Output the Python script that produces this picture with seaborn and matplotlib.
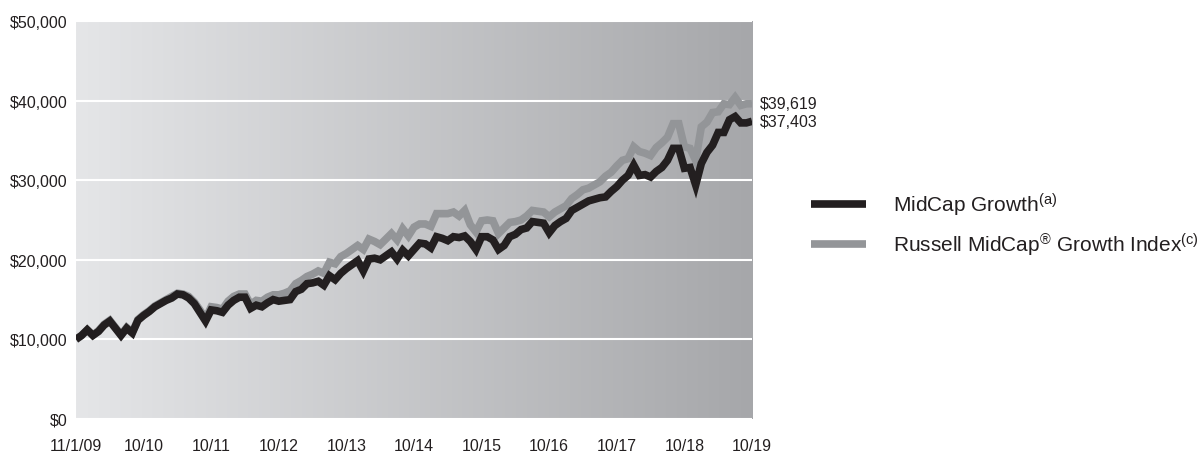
import numpy as np
import pandas as pd
import matplotlib
matplotlib.use('Agg')
import matplotlib.pyplot as plt
import seaborn as sns
from matplotlib.colors import LinearSegmentedColormap

# Growth of $10,000, month-end values from 11/1/09 to 10/31/19
midcap_growth = [
    10000, 10500, 11200, 10500, 11000, 11800, 12300, 11400, 10500, 11400,
    10800, 12400, 13000, 13500, 14100, 14500, 14900, 15200, 15700, 15600,
    15200, 14500, 13400, 12300, 13700, 13600, 13400, 14300, 14900, 15300,
    15300, 13900, 14300, 14100, 14600, 15000, 14800, 14900, 15000, 16000,
    16300, 17000, 17100, 17300, 16800, 18000, 17500, 18300, 18900, 19400,
    19900, 18600, 20100, 20200, 20000, 20500, 21000, 20100, 21200, 20500,
    21300, 22100, 22000, 21500, 22900, 22700, 22400, 22900, 22800, 23000,
    22300, 21300, 22900, 22900, 22500, 21300, 21800, 22900, 23200, 23800,
    24000, 24800, 24700, 24600, 23400, 24300, 24800, 25200, 26200, 26600,
    27000, 27400, 27600, 27800, 27900, 28600, 29200, 30000, 30600, 31900,
    30600, 30700, 30400, 31100, 31600, 32500, 34000, 34000, 31500, 31600,
    29400, 32100, 33500, 34400, 36000, 36000, 37600, 38000, 37200, 37200,
    37403,
]
russell_index = [
    10000, 10500, 11200, 10550, 11100, 11900, 12400, 11500, 10600, 11500,
    10900, 12500, 13100, 13600, 14200, 14600, 15000, 15400, 15800, 15700,
    15400, 14700, 13700, 12600, 14100, 14000, 13800, 14800, 15400, 15700,
    15700, 14400, 14900, 14800, 15300, 15600, 15600, 15800, 16100, 17000,
    17400, 17900, 18200, 18600, 18300, 19700, 19500, 20400, 20800, 21300,
    21800, 21300, 22600, 22300, 21900, 22600, 23300, 22500, 23900, 23000,
    24100, 24500, 24500, 24200, 25800, 25800, 25800, 26000, 25500, 26200,
    24400, 23500, 24900, 25000, 24900, 23300, 24000, 24700, 24800, 25000,
    25500, 26200, 26100, 26000, 25400, 26000, 26400, 26800, 27700, 28200,
    28800, 29000, 29400, 29800, 30500, 31000, 31800, 32500, 32700, 34200,
    33600, 33400, 33100, 34100, 34700, 35400, 37100, 37100, 34200, 34000,
    32500, 36700, 37300, 38500, 38600, 39600, 39500, 40400, 39400, 39600,
    39619,
]
series_names = ['MidCap Growth', 'Russell MidCap Growth Index']
legend_labels = [r'MidCap Growth$^{\rm (a)}$',
                 r'Russell MidCap$^{\rm ®}$ Growth Index$^{\rm (c)}$']
x_tick_labels = ['11/1/09', '10/10', '10/11', '10/12', '10/13', '10/14',
                 '10/15', '10/16', '10/17', '10/18', '10/19']
y_ticks = [0, 10000, 20000, 30000, 40000, 50000]

sns.set_style('white')
plt.rcParams['font.family'] = ['Liberation Sans', 'DejaVu Sans']
plt.rcParams['mathtext.fontset'] = 'custom'
plt.rcParams['mathtext.rm'] = 'Liberation Sans'
plt.rcParams['mathtext.it'] = 'Liberation Sans:italic'
plt.rcParams['mathtext.bf'] = 'Liberation Sans:bold'

text_color = '#231f20'
colors = {series_names[0]: '#231f20', series_names[1]: '#939598'}

# long-form table for seaborn
df = pd.concat([
    pd.DataFrame({'month': np.arange(len(midcap_growth)), 'value': midcap_growth,
                  'series': series_names[0]}),
    pd.DataFrame({'month': np.arange(len(russell_index)), 'value': russell_index,
                  'series': series_names[1]}),
])

fig = plt.figure(figsize=(12.04, 4.52), dpi=100)
ax = fig.add_axes([0.0631, 0.0708, 0.5615, 0.8805])

n_months = len(midcap_growth) - 1

# grey gradient background
grad = LinearSegmentedColormap.from_list('bg', ['#e5e6e8', '#a6a7aa'])
ax.imshow(np.linspace(0, 1, 256).reshape(1, -1), cmap=grad, aspect='auto',
          extent=[0, n_months, 0, 50000], zorder=-1)

sns.lineplot(data=df, x='month', y='value', hue='series',
             hue_order=[series_names[1], series_names[0]],
             palette=colors, linewidth=5.5, errorbar=None, ax=ax)
for line in ax.get_lines():
    line.set_solid_joinstyle('miter')
    line.set_solid_capstyle('butt')

ax.set_xlim(0, n_months)
ax.set_ylim(0, 50000)
ax.set_xticks(np.arange(0, n_months + 1, 12))
ax.set_xticklabels(x_tick_labels)
ax.set_yticks(y_ticks)
ax.set_yticklabels([f'${v:,.0f}' for v in y_ticks])
ax.tick_params(axis='both', length=0, labelsize=11.5, colors=text_color)
ax.tick_params(axis='x', pad=14)
ax.tick_params(axis='y', pad=6)
ax.set_xlabel('')
ax.set_ylabel('')
ax.grid(axis='y', color='white', linewidth=1.5)
ax.grid(axis='x', visible=False)
ax.set_axisbelow(True)
for s in ax.spines.values():
    s.set_visible(False)

# ending values
for vals in [russell_index, midcap_growth]:
    ax.annotate(f'${vals[-1]:,.0f}', xy=(n_months, vals[-1]), xytext=(6, 0),
                textcoords='offset points', va='center', ha='left',
                fontsize=11.5, color=text_color, annotation_clip=False)

handles, labels = ax.get_legend_handles_labels()
order = [labels.index(series_names[0]), labels.index(series_names[1])]
leg = ax.legend([handles[i] for i in order], legend_labels,
                loc='center left', bbox_to_anchor=(0.6736, 0.502),
                bbox_transform=fig.transFigure, frameon=False, fontsize=15,
                handlelength=2.64, handletextpad=1.3, labelspacing=0.6,
                borderpad=0, borderaxespad=0)
for t in leg.get_texts():
    t.set_color(text_color)
for h in leg.get_lines():
    h.set_solid_capstyle('butt')

plt.savefig('out.png', dpi=100)
